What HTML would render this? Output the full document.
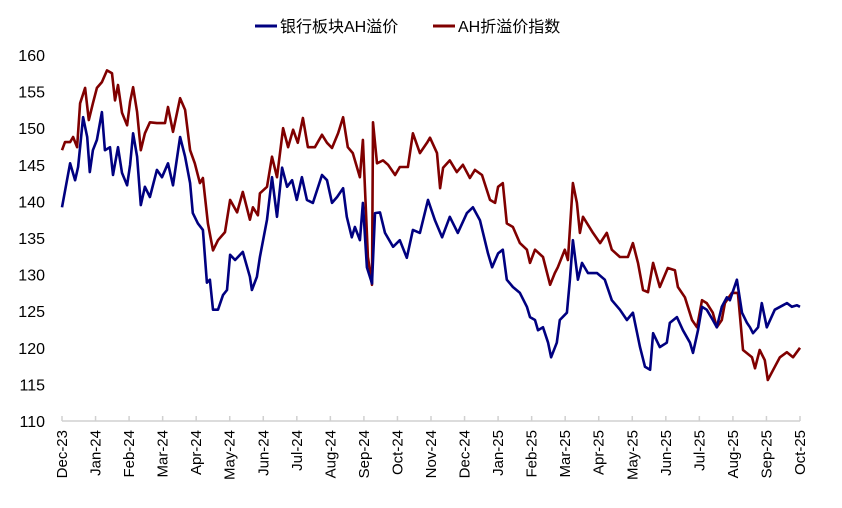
<!DOCTYPE html>
<html><head><meta charset="utf-8">
<style>
html,body{margin:0;padding:0;background:#fff;}
body{width:842px;height:503px;overflow:hidden;font-family:"Liberation Sans","Noto Sans CJK SC",sans-serif;}
svg text{font-family:"Liberation Sans","Noto Sans CJK SC",sans-serif;fill:#000;}
</style></head>
<body>
<svg id="chart" width="842" height="503" xmlns="http://www.w3.org/2000/svg">
<g id="legend">
 <g>
  <line x1="255" y1="26" x2="277" y2="26" stroke="#000080" stroke-width="3"/>
  <text x="280" y="32" font-size="16">银行板块AH溢价</text>
 </g>
 <g>
  <line x1="433" y1="26" x2="455" y2="26" stroke="#800000" stroke-width="3"/>
  <text x="458" y="32" font-size="16">AH折溢价指数</text>
 </g>
</g>
<g id="yaxis"></g>
<g id="xaxis"></g>
<g id="series"></g>
</svg>
<script>
const monthLabels=["Dec-23","Jan-24","Feb-24","Mar-24","Apr-24","May-24","Jun-24","Jul-24","Aug-24","Sep-24","Oct-24","Nov-24","Dec-24","Jan-25","Feb-25","Mar-25","Apr-25","May-25","Jun-25","Jul-25","Aug-25","Sep-25","Oct-25"];
const yTicks=[110,115,120,125,130,135,140,145,150,155,160];
const bankT=[0,0.24,0.39,0.48,0.63,0.75,0.83,0.92,1.04,1.19,1.28,1.43,1.52,1.67,1.79,1.94,2.03,2.12,2.24,2.35,2.47,2.62,2.83,2.98,3.16,3.31,3.52,3.67,3.82,3.90,4.05,4.20,4.32,4.41,4.50,4.65,4.80,4.92,5.01,5.16,5.39,5.60,5.66,5.81,5.90,6.11,6.26,6.41,6.56,6.71,6.86,7.00,7.15,7.30,7.48,7.75,7.90,8.05,8.20,8.38,8.49,8.64,8.73,8.88,8.97,9.09,9.24,9.33,9.48,9.63,9.87,10.07,10.28,10.46,10.67,10.91,11.12,11.33,11.56,11.80,12.07,12.25,12.46,12.70,12.82,13.00,13.14,13.26,13.44,13.65,13.86,13.95,14.10,14.19,14.34,14.49,14.58,14.75,14.84,15.05,15.14,15.23,15.38,15.50,15.68,15.95,16.18,16.39,16.63,16.84,17.02,17.23,17.38,17.53,17.62,17.82,18.03,18.12,18.33,18.51,18.72,18.81,18.96,19.08,19.22,19.40,19.52,19.67,19.82,19.91,20.12,20.27,20.42,20.51,20.60,20.75,20.86,21.01,21.25,21.49,21.61,21.76,21.91,22.00];
const bankV=[139.2,145.2,142.9,144.7,151.5,148.8,144.0,147.0,148.4,152.2,147.0,147.4,143.6,147.4,143.9,142.2,145.0,149.3,146.1,139.5,142.0,140.6,144.3,143.3,145.2,142.2,148.8,146.1,142.5,138.4,137.0,136.1,128.9,129.3,125.2,125.2,127.2,127.9,132.7,132.0,133.1,129.7,127.9,129.7,132.4,137.5,143.3,137.9,144.6,142.0,142.9,140.2,143.3,140.2,139.8,143.6,142.9,139.8,140.6,141.8,137.9,135.1,136.5,134.7,139.8,131.0,128.8,138.4,138.5,135.7,133.8,134.7,132.3,136.1,135.7,140.2,137.4,135.1,137.9,135.7,138.4,139.2,137.4,132.9,131.0,132.9,133.4,129.3,128.3,127.5,125.6,124.2,123.8,122.4,122.8,120.7,118.7,120.7,123.8,124.8,129.3,134.7,129.3,131.6,130.2,130.2,129.3,126.5,125.2,123.8,124.8,120.1,117.4,117.0,122.0,120.1,120.7,123.4,124.2,122.4,120.7,119.3,122.4,125.6,125.2,123.8,122.8,125.6,126.9,126.5,129.3,124.8,123.4,122.8,122.0,122.8,126.1,122.8,125.2,125.8,126.1,125.6,125.8,125.6];
const ahT=[0,0.09,0.24,0.33,0.45,0.54,0.69,0.80,0.92,1.04,1.19,1.34,1.49,1.58,1.67,1.79,1.94,2.03,2.12,2.24,2.35,2.47,2.62,2.83,3.07,3.16,3.31,3.52,3.67,3.82,3.96,4.11,4.20,4.35,4.50,4.65,4.86,5.01,5.22,5.39,5.60,5.69,5.84,5.90,6.11,6.26,6.41,6.59,6.74,6.89,7.03,7.18,7.33,7.54,7.75,7.90,8.05,8.23,8.38,8.52,8.67,8.88,8.97,9.12,9.24,9.27,9.39,9.57,9.72,9.93,10.07,10.31,10.46,10.67,10.88,10.97,11.18,11.27,11.36,11.56,11.77,11.95,12.16,12.31,12.52,12.76,12.91,13.00,13.14,13.26,13.44,13.65,13.86,13.95,14.10,14.34,14.55,14.69,14.78,14.99,15.08,15.23,15.35,15.44,15.53,15.83,16.04,16.24,16.39,16.63,16.87,17.02,17.17,17.32,17.47,17.62,17.82,18.06,18.27,18.36,18.57,18.78,18.93,19.08,19.22,19.40,19.52,19.67,19.76,19.97,20.15,20.30,20.57,20.66,20.80,20.95,21.04,21.25,21.40,21.61,21.79,22.00];
const ahV=[147.0,148.1,148.1,148.8,147.4,153.4,155.5,151.1,153.4,155.5,156.3,157.9,157.5,153.8,155.9,152.1,150.4,153.6,155.6,152.2,147.0,149.3,150.8,150.7,150.7,152.9,149.5,154.1,152.5,147.0,145.2,142.5,143.2,137.0,133.3,134.7,135.8,140.2,138.5,141.3,137.5,139.2,138.1,141.1,142.0,146.1,143.3,150.0,147.4,149.8,148.0,151.4,147.4,147.4,149.1,148.0,147.3,149.3,151.5,147.4,146.6,143.3,148.4,132.4,128.6,150.8,145.2,145.6,145.0,143.6,144.7,144.7,149.3,146.6,148.0,148.7,146.6,141.8,144.6,145.6,144.0,145.0,143.2,144.3,143.6,140.2,139.8,142.0,142.5,137.0,136.5,134.3,133.4,131.6,133.4,132.4,128.6,130.2,131.0,133.4,132.0,142.5,139.8,135.7,137.9,135.7,134.3,135.7,133.4,132.4,132.4,134.3,131.6,127.9,127.6,131.6,128.3,130.9,130.6,128.3,126.9,123.8,122.8,126.5,126.1,124.8,122.8,123.8,126.1,127.5,127.5,119.7,118.7,117.2,119.7,118.3,115.6,117.4,118.7,119.4,118.7,120.0];

const NS="http://www.w3.org/2000/svg";
const X0=62,X1=800,Y0=421,Y1=55,VMIN=110,VMAX=160,TMAX=22;
function xScale(t){return X0+(X1-X0)*t/TMAX;}
function yScale(v){return Y0-(Y0-Y1)*(v-VMIN)/(VMAX-VMIN);}
function mk(tag,attrs,parent){const e=document.createElementNS(NS,tag);for(const k in attrs)e.setAttribute(k,attrs[k]);parent.appendChild(e);return e;}

const ya=document.getElementById('yaxis');
yTicks.forEach(v=>{
  const t=mk('text',{x:45,y:yScale(v)+6,'text-anchor':'end','font-size':'16'},ya);
  
  
  t.textContent=v;
});
const xa=document.getElementById('xaxis');
const axl=mk('line',{x1:X0,y1:Y0,x2:X1,y2:Y0,stroke:'#d0d0d0','stroke-width':1.5},xa);


monthLabels.forEach((m,i)=>{
  const x=xScale(i);
  const tk=mk('line',{x1:x,y1:Y0,x2:x,y2:Y0-5,stroke:'#d0d0d0','stroke-width':1.5},xa);
  
  
  const t=mk('text',{x:0,y:0,'text-anchor':'end','font-size':'15',transform:`translate(${x+5},${Y0+9}) rotate(-90)`},xa);
  
  
  t.textContent=m;
});
const sg=document.getElementById('series');
function line(T,V,color,name){
  const d=T.map((t,i)=>(i?'L':'M')+xScale(t).toFixed(1)+','+yScale(V[i]).toFixed(1)).join(' ');
  const p=mk('path',{d:d,fill:'none',stroke:color,'stroke-width':2.6,'stroke-linejoin':'round'},sg);
  
  
}
line(ahT,ahV,'#800000','ah-index-line');
line(bankT,bankV,'#000080','bank-ah-premium-line');
</script>
</body></html>
